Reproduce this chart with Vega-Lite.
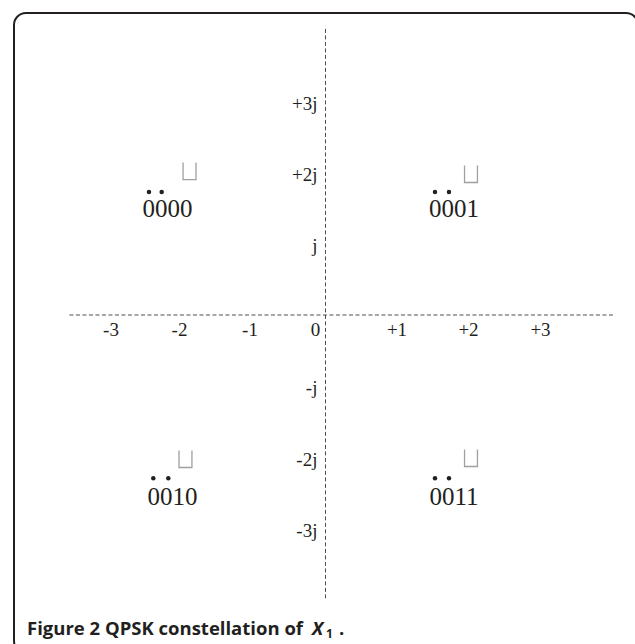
{
  "$schema": "https://vega.github.io/schema/vega-lite/v6.json",
  "width": 624,
  "height": 640,
  "autosize": {"type": "none"},
  "padding": {"left": 14, "top": 13, "right": 0, "bottom": 0},
  "background": "white",
  "config": {"view": {"stroke": "#231f20", "strokeWidth": 2, "cornerRadius": 12}},
  "datasets": {
    "hAxis": [{"x": -3.606, "x2": 4.049, "y": 0}],
    "vAxis": [{"x": 0, "y": 4.03, "y2": -3.99}],
    "reTicks": [
      {"x": -3.021, "y": -0.218, "label": "-3"},
      {"x": -2.056, "y": -0.218, "label": "-2"},
      {"x": -1.063, "y": -0.218, "label": "-1"},
      {"x": -0.141, "y": -0.218, "label": "0"},
      {"x": 1.007, "y": -0.218, "label": "+1"},
      {"x": 2.014, "y": -0.218, "label": "+2"},
      {"x": 3.028, "y": -0.218, "label": "+3"}
    ],
    "imTicks": [
      {"x": -0.113, "y": 2.972, "label": "+3j"},
      {"x": -0.113, "y": 1.972, "label": "+2j"},
      {"x": -0.113, "y": 0.972, "label": "j"},
      {"x": -0.113, "y": -1.028, "label": "-j"},
      {"x": -0.113, "y": -2.042, "label": "-2j"},
      {"x": -0.113, "y": -3.042, "label": "-3j"}
    ],
    "points": [
      {"x": -1.915, "y": 2.028, "symbol": "0000"},
      {"x": 2.049, "y": 1.986, "symbol": "0001"},
      {"x": -1.972, "y": -2.028, "symbol": "0010"},
      {"x": 2.049, "y": -2.014, "symbol": "0011"}
    ],
    "labels": [
      {"x": -2.225, "y": 1.38, "label": "0000"},
      {"x": 1.81, "y": 1.38, "label": "0001"},
      {"x": -2.155, "y": -2.676, "label": "0010"},
      {"x": 1.81, "y": -2.676, "label": "0011"}
    ],
    "dots": [
      {"x": -2.486, "y": 1.732, "symbol": "0000"},
      {"x": -2.307, "y": 1.732, "symbol": "0000"},
      {"x": 1.542, "y": 1.732, "symbol": "0001"},
      {"x": 1.739, "y": 1.732, "symbol": "0001"},
      {"x": -2.425, "y": -2.3, "symbol": "0010"},
      {"x": -2.214, "y": -2.3, "symbol": "0010"},
      {"x": 1.542, "y": -2.3, "symbol": "0011"},
      {"x": 1.739, "y": -2.3, "symbol": "0011"}
    ],
    "capMain": [{"x": -4.204, "y": -4.507, "label": "Figure 2 QPSK constellation of"}],
    "capX": [{"x": -0.19, "y": -4.507, "label": "X"}],
    "capSub": [{"x": 0.007, "y": -4.55, "label": "1"}],
    "capDot": [{"x": 0.19, "y": -4.507, "label": "."}]
  },
  "encoding": {
    "x": {"field": "x", "type": "quantitative", "axis": null,
          "scale": {"domain": [-4.387, 4.401], "nice": false, "zero": false}},
    "y": {"field": "y", "type": "quantitative", "axis": null,
          "scale": {"domain": [-4.761, 4.254], "nice": false, "zero": false}}
  },
  "layer": [
    {
      "data": {"name": "hAxis"},
      "mark": {"type": "rule", "stroke": "#4d4d4d", "strokeWidth": 1, "strokeDash": [4, 2.5]},
      "encoding": {"x2": {"field": "x2"}}
    },
    {
      "data": {"name": "vAxis"},
      "mark": {"type": "rule", "stroke": "#4d4d4d", "strokeWidth": 1, "strokeDash": [4, 2.5]},
      "encoding": {"y2": {"field": "y2"}}
    },
    {
      "data": {"name": "reTicks"},
      "mark": {"type": "text", "font": "Liberation Serif, DejaVu Serif, serif", "fontSize": 19, "align": "center", "baseline": "middle", "color": "#231f20"},
      "encoding": {"text": {"field": "label"}}
    },
    {
      "data": {"name": "imTicks"},
      "mark": {"type": "text", "font": "Liberation Serif, DejaVu Serif, serif", "fontSize": 19, "align": "right", "baseline": "middle", "color": "#231f20"},
      "encoding": {"text": {"field": "label"}}
    },
    {
      "data": {"name": "points"},
      "mark": {"type": "point", "shape": "M -0.76 -1 L -0.76 1 L 0.76 1 L 0.76 -1", "size": 289, "filled": false, "stroke": "#a0a0a0", "strokeWidth": 1.3, "opacity": 1}
    },
    {
      "data": {"name": "dots"},
      "mark": {"type": "point", "shape": "circle", "size": 20, "filled": true, "color": "#231f20", "opacity": 1}
    },
    {
      "data": {"name": "labels"},
      "mark": {"type": "text", "font": "Liberation Serif, DejaVu Serif, serif", "fontSize": 25, "align": "center", "baseline": "alphabetic", "color": "#231f20"},
      "encoding": {"text": {"field": "label"}}
    },
    {
      "data": {"name": "capMain"},
      "mark": {"type": "text", "font": "Open Sans", "fontWeight": "bold", "fontSize": 18.5, "align": "left", "baseline": "alphabetic", "color": "#231f20"},
      "encoding": {"text": {"field": "label"}}
    },
    {
      "data": {"name": "capX"},
      "mark": {"type": "text", "font": "Open Sans", "fontWeight": "bold", "fontStyle": "italic", "fontSize": 18.5, "align": "left", "baseline": "alphabetic", "color": "#231f20"},
      "encoding": {"text": {"field": "label"}}
    },
    {
      "data": {"name": "capSub"},
      "mark": {"type": "text", "font": "Open Sans", "fontWeight": "bold", "fontSize": 12, "align": "left", "baseline": "alphabetic", "color": "#231f20"},
      "encoding": {"text": {"field": "label"}}
    },
    {
      "data": {"name": "capDot"},
      "mark": {"type": "text", "font": "Open Sans", "fontWeight": "bold", "fontSize": 18.5, "align": "left", "baseline": "alphabetic", "color": "#231f20"},
      "encoding": {"text": {"field": "label"}}
    }
  ]
}
